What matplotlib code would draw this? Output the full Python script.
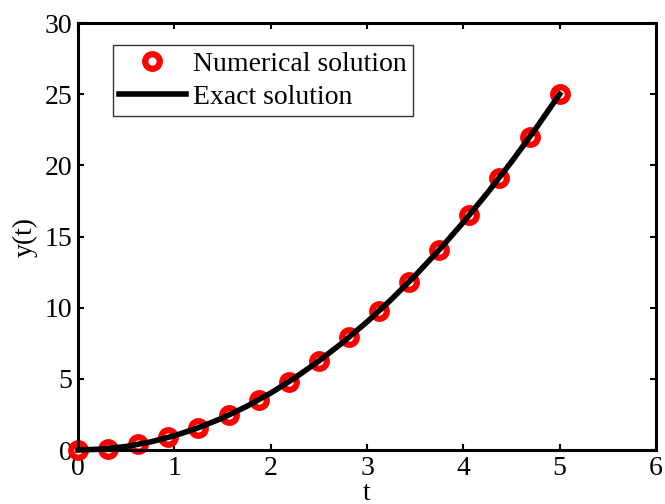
import matplotlib
matplotlib.use("Agg")
import matplotlib.pyplot as plt

# Numerical solution (markers)
t_num = [0.0, 0.3125, 0.625, 0.9375, 1.25, 1.5625, 1.875, 2.1875, 2.5,
         2.8125, 3.125, 3.4375, 3.75, 4.0625, 4.375, 4.6875, 5.0]
y_num = [0.0, 0.10, 0.39, 0.88, 1.56, 2.44, 3.52, 4.79, 6.25,
         7.91, 9.77, 11.82, 14.06, 16.50, 19.14, 21.97, 25.0]

# Exact solution (line)
t_exact = [0.0, 0.25, 0.5, 0.75, 1.0, 1.25, 1.5, 1.75, 2.0, 2.25, 2.5,
           2.75, 3.0, 3.25, 3.5, 3.75, 4.0, 4.25, 4.5, 4.75, 5.0]
y_exact = [0.0, 0.0625, 0.25, 0.5625, 1.0, 1.5625, 2.25, 3.0625, 4.0, 5.0625, 6.25,
           7.5625, 9.0, 10.5625, 12.25, 14.0625, 16.0, 18.0625, 20.25, 22.5625, 25.0]

x_ticks = [0, 1, 2, 3, 4, 5, 6]
y_ticks = [0, 5, 10, 15, 20, 25, 30]

plt.rcParams['font.family'] = ['Liberation Serif', 'DejaVu Serif']

fig = plt.figure(figsize=(6.65, 5.04), dpi=100)
ax = fig.add_axes([78/665, 1 - 450/504, (656-78)/665, (450-23)/504])

ax.plot(t_num, y_num, linestyle='none', marker='o', markersize=10.5,
        markerfacecolor='white', markeredgecolor='#ff0000', markeredgewidth=4.5,
        label='Numerical solution', zorder=2, clip_on=False)
ax.plot(t_exact, y_exact, color='black', linewidth=4, label='Exact solution',
        zorder=3, clip_on=False)

ax.set_xlim(0, 6)
ax.set_ylim(0, 30)
ax.set_xticks(x_ticks)
ax.set_yticks(y_ticks)
ax.tick_params(direction='in', length=4, width=1.5, top=True, right=True,
               labelsize=20, pad=4)
for s in ax.spines.values():
    s.set_linewidth(2.2)

ax.set_xlabel('t', fontsize=20, labelpad=0)
ax.set_ylabel('y(t)', fontsize=20, labelpad=5)

leg = ax.legend(loc='upper left', bbox_to_anchor=((113-78)/578, 1 - (45-23)/427),
                fontsize=20, frameon=True, fancybox=False, edgecolor='black',
                borderpad=0.22, handlelength=2.4, handletextpad=0.25,
                labelspacing=0.28, borderaxespad=0)
leg.get_frame().set_linewidth(1.0)

fig.savefig('out.png', dpi=100)
